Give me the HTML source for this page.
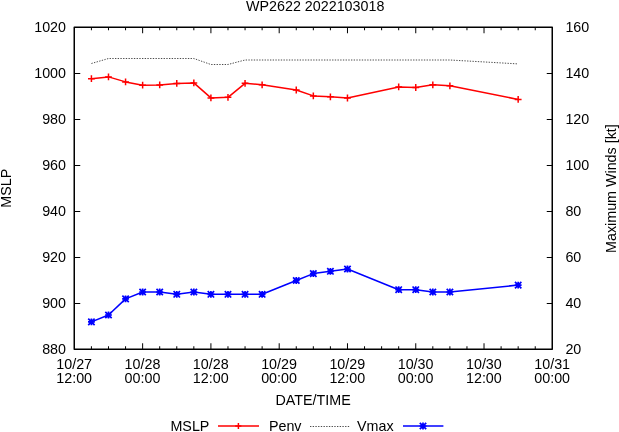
<!DOCTYPE html>
<html><head><meta charset="utf-8"><style>
html,body{margin:0;padding:0;background:#fff;width:619px;height:432px;overflow:hidden}
svg{display:block;will-change:transform}
</style></head><body>
<svg width="619" height="432" viewBox="0 0 619 432">
<rect width="619" height="432" fill="#fff"/>
<path d="M91.42 349.25V346.25M91.42 27.25V30.25M108.49 349.25V346.25M108.49 27.25V30.25M125.56 349.25V346.25M125.56 27.25V30.25M142.63 349.25V343.25M142.63 27.25V33.25M159.70 349.25V346.25M159.70 27.25V30.25M176.77 349.25V346.25M176.77 27.25V30.25M193.84 349.25V346.25M193.84 27.25V30.25M210.91 349.25V343.25M210.91 27.25V33.25M227.98 349.25V346.25M227.98 27.25V30.25M245.05 349.25V346.25M245.05 27.25V30.25M262.12 349.25V346.25M262.12 27.25V30.25M279.19 349.25V343.25M279.19 27.25V33.25M296.26 349.25V346.25M296.26 27.25V30.25M313.33 349.25V346.25M313.33 27.25V30.25M330.40 349.25V346.25M330.40 27.25V30.25M347.47 349.25V343.25M347.47 27.25V33.25M364.54 349.25V346.25M364.54 27.25V30.25M381.61 349.25V346.25M381.61 27.25V30.25M398.68 349.25V346.25M398.68 27.25V30.25M415.75 349.25V343.25M415.75 27.25V33.25M432.82 349.25V346.25M432.82 27.25V30.25M449.89 349.25V346.25M449.89 27.25V30.25M466.96 349.25V346.25M466.96 27.25V30.25M484.03 349.25V343.25M484.03 27.25V33.25M501.10 349.25V346.25M501.10 27.25V30.25M518.17 349.25V346.25M518.17 27.25V30.25M535.24 349.25V346.25M535.24 27.25V30.25M74.25 73.5H80.25M552.25 73.5H546.75M74.25 119.5H80.25M552.25 119.5H546.75M74.25 165.5H80.25M552.25 165.5H546.75M74.25 211.5H80.25M552.25 211.5H546.75M74.25 257.5H80.25M552.25 257.5H546.75M74.25 303.5H80.25M552.25 303.5H546.75" stroke="#000" stroke-width="1" fill="none"/>
<path d="M74.25 27.25H552.25V349.25H74.25Z" stroke="#000" stroke-width="1.5" fill="none" stroke-linejoin="round"/>
<path d="M91.42 63.50 L108.49 58.50 L193.84 58.50 L210.91 64.50 L227.98 64.50 L245.05 60.00 L449.89 60.00 L518.17 63.90" stroke="#000" stroke-width="1" stroke-dasharray="1.35 1.35" fill="none" opacity="0.7"/>
<path d="M91.42 78.70 L108.49 76.90 L125.56 81.90 L142.63 85.15 L159.70 84.90 L176.77 83.40 L193.84 82.90 L210.91 97.90 L227.98 97.30 L245.05 83.30 L262.12 84.80 L296.26 90.00 L313.33 95.90 L330.40 96.80 L347.47 98.00 L398.68 86.90 L415.75 87.50 L432.82 84.85 L449.89 85.85 L518.17 99.40" stroke="#f00" stroke-width="1.5" fill="none" stroke-linejoin="round"/>
<path d="M88.02 78.70h6.8M91.42 75.30v6.8M105.09 76.90h6.8M108.49 73.50v6.8M122.16 81.90h6.8M125.56 78.50v6.8M139.23 85.15h6.8M142.63 81.75v6.8M156.30 84.90h6.8M159.70 81.50v6.8M173.37 83.40h6.8M176.77 80.00v6.8M190.44 82.90h6.8M193.84 79.50v6.8M207.51 97.90h6.8M210.91 94.50v6.8M224.58 97.30h6.8M227.98 93.90v6.8M241.65 83.30h6.8M245.05 79.90v6.8M258.72 84.80h6.8M262.12 81.40v6.8M292.86 90.00h6.8M296.26 86.60v6.8M309.93 95.90h6.8M313.33 92.50v6.8M327.00 96.80h6.8M330.40 93.40v6.8M344.07 98.00h6.8M347.47 94.60v6.8M395.28 86.90h6.8M398.68 83.50v6.8M412.35 87.50h6.8M415.75 84.10v6.8M429.42 84.85h6.8M432.82 81.45v6.8M446.49 85.85h6.8M449.89 82.45v6.8M514.77 99.40h6.8M518.17 96.00v6.8" stroke="#f00" stroke-width="1.5" fill="none"/>
<path d="M91.42 321.90 L108.49 315.00 L125.56 298.90 L142.63 292.00 L159.70 292.00 L176.77 294.30 L193.84 292.00 L210.91 294.30 L227.98 294.30 L245.05 294.30 L262.12 294.30 L296.26 280.50 L313.33 273.60 L330.40 271.30 L347.47 269.00 L398.68 289.70 L415.75 289.70 L432.82 292.00 L449.89 292.00 L518.17 285.10" stroke="#00f" stroke-width="1.5" fill="none" stroke-linejoin="round"/>
<path d="M88.22 318.70l6.4 6.4M88.22 325.10l6.4 -6.4M88.02 321.90h6.8M91.42 318.50v6.8M105.29 311.80l6.4 6.4M105.29 318.20l6.4 -6.4M105.09 315.00h6.8M108.49 311.60v6.8M122.36 295.70l6.4 6.4M122.36 302.10l6.4 -6.4M122.16 298.90h6.8M125.56 295.50v6.8M139.43 288.80l6.4 6.4M139.43 295.20l6.4 -6.4M139.23 292.00h6.8M142.63 288.60v6.8M156.50 288.80l6.4 6.4M156.50 295.20l6.4 -6.4M156.30 292.00h6.8M159.70 288.60v6.8M173.57 291.10l6.4 6.4M173.57 297.50l6.4 -6.4M173.37 294.30h6.8M176.77 290.90v6.8M190.64 288.80l6.4 6.4M190.64 295.20l6.4 -6.4M190.44 292.00h6.8M193.84 288.60v6.8M207.71 291.10l6.4 6.4M207.71 297.50l6.4 -6.4M207.51 294.30h6.8M210.91 290.90v6.8M224.78 291.10l6.4 6.4M224.78 297.50l6.4 -6.4M224.58 294.30h6.8M227.98 290.90v6.8M241.85 291.10l6.4 6.4M241.85 297.50l6.4 -6.4M241.65 294.30h6.8M245.05 290.90v6.8M258.92 291.10l6.4 6.4M258.92 297.50l6.4 -6.4M258.72 294.30h6.8M262.12 290.90v6.8M293.06 277.30l6.4 6.4M293.06 283.70l6.4 -6.4M292.86 280.50h6.8M296.26 277.10v6.8M310.13 270.40l6.4 6.4M310.13 276.80l6.4 -6.4M309.93 273.60h6.8M313.33 270.20v6.8M327.20 268.10l6.4 6.4M327.20 274.50l6.4 -6.4M327.00 271.30h6.8M330.40 267.90v6.8M344.27 265.80l6.4 6.4M344.27 272.20l6.4 -6.4M344.07 269.00h6.8M347.47 265.60v6.8M395.48 286.50l6.4 6.4M395.48 292.90l6.4 -6.4M395.28 289.70h6.8M398.68 286.30v6.8M412.55 286.50l6.4 6.4M412.55 292.90l6.4 -6.4M412.35 289.70h6.8M415.75 286.30v6.8M429.62 288.80l6.4 6.4M429.62 295.20l6.4 -6.4M429.42 292.00h6.8M432.82 288.60v6.8M446.69 288.80l6.4 6.4M446.69 295.20l6.4 -6.4M446.49 292.00h6.8M449.89 288.60v6.8M514.97 281.90l6.4 6.4M514.97 288.30l6.4 -6.4M514.77 285.10h6.8M518.17 281.70v6.8" stroke="#00f" stroke-width="1.7" fill="none"/>
<text x="315.20" y="10.70" text-anchor="middle" font-family="Liberation Sans, sans-serif" font-size="14.3" fill="#000">WP2622 2022103018</text>
<text x="66.00" y="31.70" text-anchor="end" font-family="Liberation Sans, sans-serif" font-size="14.3" fill="#000">1020</text>
<text x="66.00" y="77.70" text-anchor="end" font-family="Liberation Sans, sans-serif" font-size="14.3" fill="#000">1000</text>
<text x="66.00" y="123.70" text-anchor="end" font-family="Liberation Sans, sans-serif" font-size="14.3" fill="#000">980</text>
<text x="66.00" y="169.70" text-anchor="end" font-family="Liberation Sans, sans-serif" font-size="14.3" fill="#000">960</text>
<text x="66.00" y="215.70" text-anchor="end" font-family="Liberation Sans, sans-serif" font-size="14.3" fill="#000">940</text>
<text x="66.00" y="261.70" text-anchor="end" font-family="Liberation Sans, sans-serif" font-size="14.3" fill="#000">920</text>
<text x="66.00" y="307.70" text-anchor="end" font-family="Liberation Sans, sans-serif" font-size="14.3" fill="#000">900</text>
<text x="66.00" y="353.70" text-anchor="end" font-family="Liberation Sans, sans-serif" font-size="14.3" fill="#000">880</text>
<text x="565.40" y="31.80" font-family="Liberation Sans, sans-serif" font-size="14.3" fill="#000">160</text>
<text x="565.40" y="77.80" font-family="Liberation Sans, sans-serif" font-size="14.3" fill="#000">140</text>
<text x="565.40" y="123.80" font-family="Liberation Sans, sans-serif" font-size="14.3" fill="#000">120</text>
<text x="565.40" y="169.80" font-family="Liberation Sans, sans-serif" font-size="14.3" fill="#000">100</text>
<text x="565.40" y="215.80" font-family="Liberation Sans, sans-serif" font-size="14.3" fill="#000">80</text>
<text x="565.40" y="261.80" font-family="Liberation Sans, sans-serif" font-size="14.3" fill="#000">60</text>
<text x="565.40" y="307.80" font-family="Liberation Sans, sans-serif" font-size="14.3" fill="#000">40</text>
<text x="565.40" y="353.80" font-family="Liberation Sans, sans-serif" font-size="14.3" fill="#000">20</text>
<text x="74.20" y="368.70" text-anchor="middle" font-family="Liberation Sans, sans-serif" font-size="14.3" fill="#000">10/27</text>
<text x="74.20" y="382.70" text-anchor="middle" font-family="Liberation Sans, sans-serif" font-size="14.3" fill="#000">12:00</text>
<text x="142.48" y="368.70" text-anchor="middle" font-family="Liberation Sans, sans-serif" font-size="14.3" fill="#000">10/28</text>
<text x="142.48" y="382.70" text-anchor="middle" font-family="Liberation Sans, sans-serif" font-size="14.3" fill="#000">00:00</text>
<text x="210.76" y="368.70" text-anchor="middle" font-family="Liberation Sans, sans-serif" font-size="14.3" fill="#000">10/28</text>
<text x="210.76" y="382.70" text-anchor="middle" font-family="Liberation Sans, sans-serif" font-size="14.3" fill="#000">12:00</text>
<text x="279.04" y="368.70" text-anchor="middle" font-family="Liberation Sans, sans-serif" font-size="14.3" fill="#000">10/29</text>
<text x="279.04" y="382.70" text-anchor="middle" font-family="Liberation Sans, sans-serif" font-size="14.3" fill="#000">00:00</text>
<text x="347.32" y="368.70" text-anchor="middle" font-family="Liberation Sans, sans-serif" font-size="14.3" fill="#000">10/29</text>
<text x="347.32" y="382.70" text-anchor="middle" font-family="Liberation Sans, sans-serif" font-size="14.3" fill="#000">12:00</text>
<text x="415.60" y="368.70" text-anchor="middle" font-family="Liberation Sans, sans-serif" font-size="14.3" fill="#000">10/30</text>
<text x="415.60" y="382.70" text-anchor="middle" font-family="Liberation Sans, sans-serif" font-size="14.3" fill="#000">00:00</text>
<text x="483.88" y="368.70" text-anchor="middle" font-family="Liberation Sans, sans-serif" font-size="14.3" fill="#000">10/30</text>
<text x="483.88" y="382.70" text-anchor="middle" font-family="Liberation Sans, sans-serif" font-size="14.3" fill="#000">12:00</text>
<text x="552.16" y="368.70" text-anchor="middle" font-family="Liberation Sans, sans-serif" font-size="14.3" fill="#000">10/31</text>
<text x="552.16" y="382.70" text-anchor="middle" font-family="Liberation Sans, sans-serif" font-size="14.3" fill="#000">00:00</text>
<text x="313.10" y="404.60" text-anchor="middle" font-family="Liberation Sans, sans-serif" font-size="14.3" fill="#000">DATE/TIME</text>
<text transform="translate(11.10 188.20) rotate(-90)" text-anchor="middle" font-family="Liberation Sans, sans-serif" font-size="14.3" fill="#000">MSLP</text>
<text transform="translate(615.80 188.60) rotate(-90)" text-anchor="middle" font-family="Liberation Sans, sans-serif" font-size="14.3" fill="#000">Maximum Winds [kt]</text>
<text x="209.40" y="430.70" text-anchor="end" font-family="Liberation Sans, sans-serif" font-size="14.3" fill="#000">MSLP</text>
<path d="M218 426H259" stroke="#f00" stroke-width="1.5" fill="none"/>
<path d="M238.4 422.9v6.2M235.2 426h6.2" stroke="#f00" stroke-width="1.5" fill="none"/>
<text x="268.90" y="430.70" font-family="Liberation Sans, sans-serif" font-size="14.3" fill="#000">Penv</text>
<path d="M310 426.5H350" stroke="#000" stroke-width="1" stroke-dasharray="1.35 1.35" fill="none" opacity="0.7"/>
<text x="357.00" y="430.70" font-family="Liberation Sans, sans-serif" font-size="14.3" fill="#000">Vmax</text>
<path d="M403 426H443.4" stroke="#00f" stroke-width="1.5" fill="none"/>
<path d="M419.8 422.8l6.4 6.4M419.8 429.2l6.4 -6.4M423 422.6v6.8M419.6 426h6.8" stroke="#00f" stroke-width="1.7" fill="none"/>
</svg>
</body></html>
